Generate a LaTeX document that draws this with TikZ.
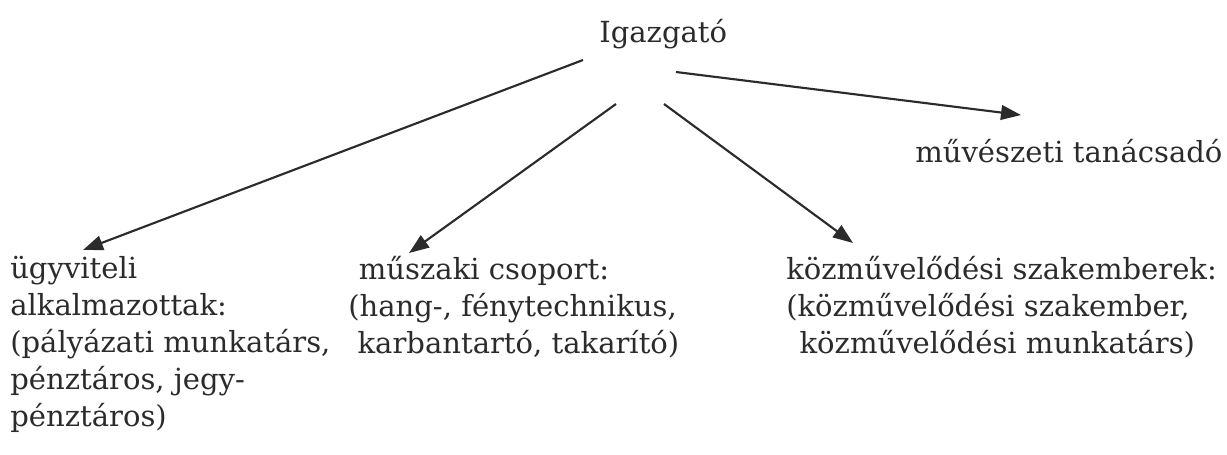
\documentclass[tikz,border=0pt]{standalone}
\usepackage{fontspec}
\setmainfont{DejaVu Serif}
\usetikzlibrary{arrows.meta}
\definecolor{ink}{HTML}{2B2B2B}
\begin{document}
\begin{tikzpicture}[x=0.75pt,y=-0.75pt,
  lbl/.style={inner sep=0pt, text=ink, font=\fontsize{21.8}{27.75}\selectfont, align=left},
  arr/.style={draw=ink, line width=1.6pt, -{Triangle[length=15pt,width=11pt]}}]
\useasboundingbox (0,0) rectangle (1227,454);
\node[lbl, anchor=base west] (igaz) at (599,42) {Igazgató};
\node[lbl, anchor=base west] (muv) at (915,162) {művészeti tanácsadó};
\node[lbl, anchor=north west] (ugy) at (10,256) {ügyviteli\\alkalmazottak:\\(pályázati munkatárs,\\pénztáros, jegy-\\pénztáros)};
\node[lbl, anchor=north west] (musz) at (348,256) {\hspace*{8pt}műszaki csoport:\\(hang-, fénytechnikus,\\\hspace*{7pt}karbantartó, takarító)};
\node[lbl, anchor=north west] (kozm) at (786,256) {közművelődési szakemberek:\\(közművelődési szakember,\\\hspace*{10pt}közművelődési munkatárs)};
\coordinate (s1) at (583,60);
\coordinate (s2) at (616,104);
\coordinate (s3) at (664,104);
\coordinate (s4) at (676,72);
\coordinate (t1) at (83,250);
\coordinate (t2) at (409,253);
\coordinate (t3) at (853,243);
\coordinate (t4) at (1021,115);
\draw[arr] (s1) -- (t1);
\draw[arr] (s2) -- (t2);
\draw[arr] (s3) -- (t3);
\draw[arr] (s4) -- (t4);
\end{tikzpicture}
\end{document}
